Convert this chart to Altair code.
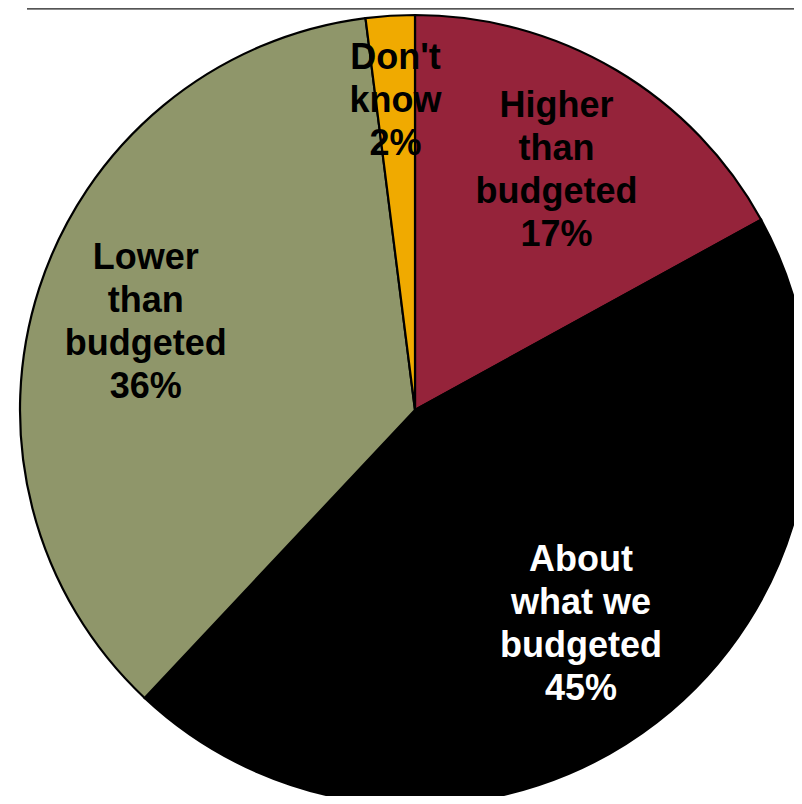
import altair as alt
import pandas as pd

categories = ["Higher than budgeted", "About what we budgeted", "Lower than budgeted", "Don't know"]
labels = ["Higher\nthan\nbudgeted\n17%", "About\nwhat we\nbudgeted\n45%",
          "Lower\nthan\nbudgeted\n36%", "Don't\nknow\n2%"]
values = [17, 45, 36, 2]
slice_order = [0, 1, 2, 3]
slice_colors = ["#95233A", "#000000", "#8F966A", "#F0AA00"]
text_colors = ["#000000", "#FFFFFF", "#000000", "#000000"]

df = pd.DataFrame({"category": categories, "label": labels, "value": values, "ord": slice_order})

CX, CY, R = 407, 402, 395
LINE_H = 43
label_radius = {0: 278, 1: 271, 2: 283, 3: 310}

base = alt.Chart(df).encode(
    theta=alt.Theta("value:Q", stack=True, scale=alt.Scale(domain=[0, 100])),
    order=alt.Order("ord:Q", sort="ascending"),
)

arcs = base.mark_arc(stroke="#000000", strokeWidth=2.2, x=CX, y=CY, outerRadius=R).encode(
    color=alt.Color("category:N", scale=alt.Scale(domain=categories, range=slice_colors), legend=None)
)

layers = [arcs]
for i, lab in enumerate(labels):
    n_lines = lab.count("\n") + 1
    t = base.mark_text(
        x=CX, y=CY, radius=label_radius[i], dy=-(n_lines - 1) * LINE_H / 2,
        font="Liberation Sans", fontSize=36, fontWeight="bold",
        lineBreak="\n", lineHeight=LINE_H, align="center", baseline="middle",
        color=text_colors[i],
    ).transform_calculate(
        shown=f"datum.ord == {i} ? datum.label : ''"
    ).encode(text="shown:N")
    layers.append(t)

top_line = alt.Chart(df).mark_rule(color="#555555", strokeWidth=1.5).encode(
    x=alt.value(19), x2=alt.value(786), y=alt.value(0.5)
)
layers.append(top_line)

chart = alt.layer(*layers).properties(
    width=786, height=788, padding=0, autosize=alt.AutoSizeParams(type="none")
).configure_view(stroke=None)

chart.save("out.html", embed_options={"renderer": "svg", "actions": False})
